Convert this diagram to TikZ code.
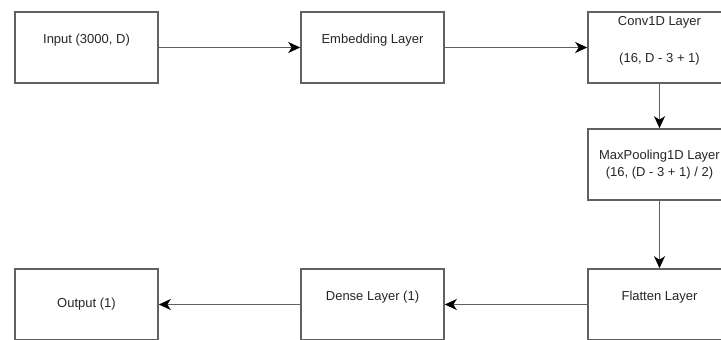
\documentclass[tikz,border=0pt]{standalone}
\usepackage{fontspec}
\setmainfont{Liberation Sans}
\usetikzlibrary{arrows.meta}
\begin{document}
\begin{tikzpicture}[x=1pt,y=-1pt,
  box/.style={draw=black!62,line width=1.6pt,minimum width=143pt,minimum height=71pt,inner sep=0pt,fill=white},
  txt/.style={font=\fontsize{13}{15}\selectfont,text=black!85,inner sep=0pt,align=center},
  arr/.style={draw=black!62,line width=1.6pt,-{Stealth[length=12pt,width=11pt,inset=3.5pt,color=black,fill=black]}}]
\useasboundingbox (0,0) rectangle (721,340);
\clip (0,0) rectangle (721,340);
\node[box] (inp) at (86.5,47.5) {};
\node[box] (emb) at (372.5,47.5) {};
\node[box] (conv) at (659.5,47.5) {};
\node[box] (maxp) at (659.5,164.5) {};
\node[box] (flat) at (659.5,304.5) {};
\node[box] (dense) at (372.5,304.5) {};
\node[box] (out) at (86.5,304.5) {};
\node[txt] (tinp) at (86.5,40) {Input (3000, D)};
\node[txt] (temb) at (372.5,40) {Embedding Layer};
\node[txt] (tconv1) at (659.5,22) {Conv1D Layer};
\node[txt] (tconv2) at (659.5,59) {(16, D - 3 + 1)};
\node[txt] (tmax1) at (659.5,156) {MaxPooling1D Layer};
\node[txt] (tmax2) at (659.5,173) {(16, (D - 3 + 1) / 2)};
\node[txt] (tflat) at (659.5,297) {Flatten Layer};
\node[txt] (tdense) at (372.5,297) {Dense Layer (1)};
\node[txt] (tout) at (86.5,304.5) {Output (1)};
\draw[arr] (inp) -- (emb);
\draw[arr] (emb) -- (conv);
\draw[arr] (conv) -- (maxp);
\draw[arr] (maxp) -- (flat);
\draw[arr] (flat) -- (dense);
\draw[arr] (dense) -- (out);
\end{tikzpicture}
\end{document}
